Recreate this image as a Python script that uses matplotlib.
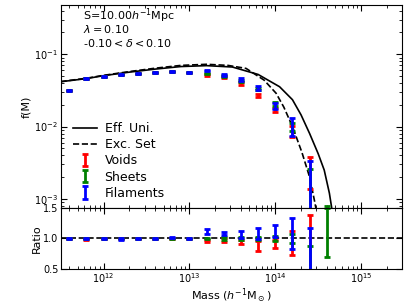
import numpy as np
import matplotlib
matplotlib.use("Agg")
from matplotlib import pyplot as plt

# mass bins (log10 of h^-1 Msun)
logm = [11.6, 11.8, 12.0, 12.2, 12.4, 12.6, 12.8, 13.0,
        13.2, 13.4, 13.6, 13.8, 14.0, 14.2, 14.4, 14.6]

# f(M) per environment (nan = no data)
f_voids = [0.0313, 0.0457, 0.0498, 0.052, 0.054, 0.056, 0.057, 0.0565,
           0.0515, 0.048, 0.0395, 0.0272, 0.017, 0.0087, 0.0026, np.nan]
e_voids = [0.0006, 0.0008, 0.0008, 0.0008, 0.0009, 0.0009, 0.001, 0.001,
           0.0012, 0.0012, 0.0015, 0.0014, 0.0012, 0.0015, 0.00125, np.nan]
f_sheets = [0.0313, 0.0457, 0.0498, 0.052, 0.054, 0.056, 0.057, 0.0565,
            0.054, 0.050, 0.043, 0.0327, 0.0203, 0.0099, 0.0015, 0.0005]
e_sheets = [0.0006, 0.0008, 0.0008, 0.0008, 0.0009, 0.0009, 0.001, 0.001,
            0.0012, 0.0012, 0.0013, 0.0012, 0.0012, 0.0012, 0.0011, 0.0003]
f_fil = [0.0313, 0.0457, 0.0498, 0.052, 0.054, 0.056, 0.057, 0.0565,
         0.060, 0.052, 0.045, 0.034, 0.0193, 0.0103, 0.0018, np.nan]
e_fil = [0.0006, 0.0008, 0.0008, 0.0008, 0.0009, 0.0009, 0.001, 0.001,
         0.0012, 0.0014, 0.002, 0.0025, 0.002, 0.003, 0.0015, np.nan]

# ratios
r_voids = [1.0, 0.99, 1.0, 1.0, 1.0, 1.0, 1.0, 1.0,
           0.955, 0.97, 0.94, 0.87, 0.91, 0.92, 0.93, np.nan]
re_voids = [0.01, 0.01, 0.01, 0.01, 0.01, 0.01, 0.01, 0.01,
            0.02, 0.03, 0.04, 0.08, 0.07, 0.2, 0.45, np.nan]
r_sheets = [1.0, 1.0, 1.0, 1.0, 1.0, 1.0, 1.0, 1.0,
            1.0, 1.0, 1.0, 1.0, 1.0, 1.0, 0.5, 1.1]
re_sheets = [0.01, 0.01, 0.01, 0.01, 0.01, 0.01, 0.01, 0.01,
             0.01, 0.02, 0.02, 0.03, 0.04, 0.08, 0.38, 0.4]
r_fil = [1.0, 1.0, 1.0, 0.99, 1.0, 1.0, 1.01, 1.0,
         1.11, 1.08, 1.06, 1.08, 1.12, 1.08, 0.55, np.nan]
re_fil = [0.01, 0.01, 0.01, 0.01, 0.01, 0.01, 0.01, 0.01,
          0.04, 0.03, 0.06, 0.09, 0.1, 0.26, 0.62, np.nan]

# model curves
logm_uni = [11.5, 11.8, 12.0, 12.3, 12.6, 12.9, 13.2, 13.5, 13.8, 14.05,
            14.2, 14.3, 14.4, 14.5, 14.57, 14.63, 14.67]
f_uni = [0.0416, 0.0460, 0.0505, 0.0565, 0.0622, 0.0675, 0.0695, 0.0665,
         0.0525, 0.0355, 0.0235, 0.0145, 0.0080, 0.0042, 0.0025, 0.0012, 0.0006]
logm_exc = [11.5, 11.8, 12.0, 12.3, 12.6, 12.9, 13.2, 13.45, 13.66, 13.87,
            14.01, 14.1, 14.2, 14.31, 14.4, 14.46, 14.5]
f_exc = [0.0418, 0.0465, 0.051, 0.0575, 0.064, 0.070, 0.0725, 0.070, 0.0636,
         0.0438, 0.0288, 0.0185, 0.0100, 0.0044, 0.0020, 0.0009, 0.0005]

plt.rcParams['font.family'] = 'DejaVu Sans'
plt.rcParams['xtick.direction'] = 'in'
plt.rcParams['ytick.direction'] = 'in'
plt.rcParams['xtick.top'] = True
plt.rcParams['ytick.right'] = True
plt.rcParams['mathtext.fontset'] = 'dejavusans'

m = 10**np.array(logm)

fig = plt.figure(figsize=(4.07, 3.08), dpi=100)
ax = fig.add_axes([0.150, 0.325, 0.838, 0.659])
axr = fig.add_axes([0.150, 0.127, 0.838, 0.198], sharex=ax)

ax.plot(10**np.array(logm_uni), f_uni, 'k-', lw=1.2, label='Eff. Uni.')
ax.plot(10**np.array(logm_exc), f_exc, 'k--', lw=1.2, label='Exc. Set')

eb = dict(fmt='none', elinewidth=2, capsize=2.2, capthick=2)
ax.errorbar(m, f_voids, yerr=e_voids, ecolor='r', label='Voids', **eb)
ax.errorbar(m, f_sheets, yerr=e_sheets, ecolor='g', label='Sheets', **eb)
ax.errorbar(m, f_fil, yerr=e_fil, ecolor='b', label='Filaments', **eb)

ax.set_xscale('log')
ax.set_yscale('log')
ax.set_xlim(3.2e11, 3.0e15)
ax.set_ylim(7.5e-4, 0.48)
ax.set_ylabel('f(M)', fontsize=8, labelpad=2)
ax.tick_params(labelbottom=False, labelsize=7, pad=2)
ax.tick_params(which='major', length=4)
ax.tick_params(which='minor', length=2)

info = ['S=10.00$h^{-1}$Mpc', '$\\lambda=$0.10', '-0.10$<\\delta<$0.10']
for i, s in enumerate(info):
    ax.text(0.065, 0.945 - 0.066 * i, s, transform=ax.transAxes,
            va='center', ha='left', fontsize=8)

ax.legend(loc='lower left', bbox_to_anchor=(0.003, -0.015), frameon=False,
          fontsize=9, handlelength=1.9, labelspacing=0.25, handletextpad=0.6)

axr.axhline(1.0, color='k', ls='--', lw=1.2)
axr.errorbar(m, r_voids, yerr=re_voids, ecolor='r', **eb)
axr.errorbar(m, r_sheets, yerr=re_sheets, ecolor='g', **eb)
axr.errorbar(m, r_fil, yerr=re_fil, ecolor='b', **eb)
axr.set_ylim(0.5, 1.5)
axr.set_yticks([0.5, 1.0, 1.5])
axr.set_ylabel('Ratio', fontsize=8, labelpad=1)
axr.set_xlabel('Mass ($h^{-1}$M$_\\odot$)', fontsize=8, labelpad=1)
axr.tick_params(labelsize=7, pad=2)
axr.tick_params(which='major', length=4)
axr.tick_params(which='minor', length=2)

fig.savefig('out.png', dpi=100)
